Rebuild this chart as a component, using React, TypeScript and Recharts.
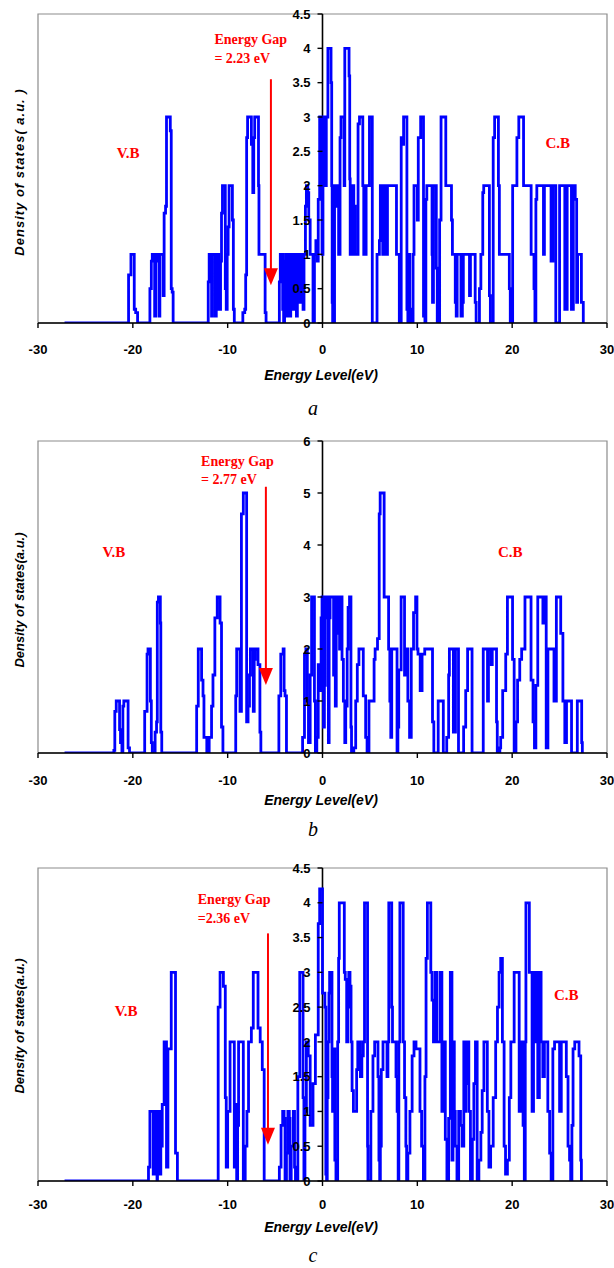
import React from "react"
import {
  LineChart,
  Line,
  XAxis,
  YAxis,
  ReferenceLine,
  ReferenceDot,
  ReferenceArea,
} from "recharts"

type Pt = [number, number]

// shared axis ticks
const energyTicks = [-30, -20, -10, 0, 10, 20, 30]
const dosTicksHalf = [0, 0.5, 1, 1.5, 2, 2.5, 3, 3.5, 4, 4.5]
const dosTicksUnit = [0, 1, 2, 3, 4, 5, 6]

// panel a: [energy eV, DOS a.u.]
const vbA: Pt[] = [
  [-27.2, 0], [-20.5, 0], [-20.45, 0.7], [-20.3, 0.7], [-20.2, 1.0], [-19.95, 1.0], [-19.85, 0.2], [-19.7, 0.15], [-19.5, 0],
  [-18.25, 0], [-18.2, 0.5], [-18.05, 0.9], [-17.95, 1.0], [-17.8, 1.0], [-17.7, 0.1], [-17.6, 0.9], [-17.5, 1.0], [-17.35, 1.0],
  [-17.25, 0.1], [-17.15, 1.0], [-16.9, 1.0], [-16.8, 0.4], [-16.7, 1.6], [-16.55, 1.7], [-16.45, 3.0], [-16.15, 3.0], [-16.05, 2.8],
  [-15.95, 0.5], [-15.85, 0.45], [-15.75, 0],
  [-12.1, 0], [-12.05, 0.6], [-11.95, 1.0], [-11.8, 1.0], [-11.7, 0.1], [-11.6, 1.0], [-11.4, 1.0], [-11.3, 0.1], [-11.2, 1.0],
  [-11.05, 1.0], [-10.95, 0.2], [-10.85, 0.2], [-10.75, 0.9], [-10.65, 1.6], [-10.55, 2.0], [-10.35, 2.0], [-10.25, 0.5],
  [-10.15, 0.2], [-10.05, 1.0], [-9.95, 1.4], [-9.85, 2.0], [-9.6, 2.0], [-9.5, 1.5], [-9.4, 0.2], [-9.3, 0],
  [-8.5, 0], [-8.4, 0.15], [-8.2, 0.2], [-8.1, 0.7], [-8.0, 2.7], [-7.9, 3.0], [-7.6, 3.0], [-7.5, 2.6], [-7.35, 1.9], [-7.25, 2.7],
  [-7.15, 3.0], [-6.8, 3.0], [-6.75, 2.0], [-6.7, 1.0], [-6.1, 1.0], [-6.05, 0.15], [-5.95, 0],
  [-4.6, 0], [-4.55, 0.6], [-4.45, 1.0], [-4.3, 1.0], [-4.2, 0.2], [-4.1, 0], [-4.0, 0.9], [-3.9, 1.0], [-3.8, 0.1], [-3.7, 1.0],
  [-3.55, 1.0], [-3.45, 0.1], [-3.35, 1.0], [-3.2, 0.9], [-3.1, 0.2], [-3.0, 1.0], [-2.85, 1.0], [-2.75, 0.1], [-2.65, 1.0],
  [-2.5, 1.0], [-2.4, 0.3], [-2.3, 1.0], [-2.15, 1.0], [-2.05, 0.2], [-1.95, 1.0], [-1.8, 1.7], [-1.7, 2.0], [-1.55, 1.9],
  [-1.45, 1.5], [-1.3, 1.0], [-1.0, 0], [-0.9, 0], [-0.85, 1.0], [-0.7, 1.2], [-0.55, 0.9], [-0.45, 1.8], [-0.3, 3.0],
  [-0.15, 3.0], [-0.05, 1.0],
]
const cbA: Pt[] = [
  [0.0, 1.0], [0.05, 3.0], [0.2, 3.0], [0.25, 2.0], [0.35, 2.0], [0.4, 3.0], [0.5, 3.0], [0.57, 4.0], [0.82, 4.0], [0.9, 3.5],
  [0.97, 2.0], [1.02, 0.3], [1.07, 0], [1.22, 0], [1.27, 2.0], [1.4, 1.7], [1.55, 2.0], [1.65, 2.0], [1.7, 1.0], [1.8, 1.0],
  [1.85, 2.7], [1.95, 3.0], [2.2, 3.0], [2.28, 2.0], [2.35, 4.0], [2.75, 4.0], [2.8, 3.6], [2.87, 2.1], [2.92, 1.0], [3.0, 1.0],
  [3.05, 2.0], [3.25, 2.0], [3.3, 1.0], [3.4, 1.7], [3.45, 1.0], [3.65, 1.0], [3.75, 2.9], [3.9, 3.0], [4.15, 3.0], [4.25, 2.0],
  [4.35, 1.0], [4.5, 1.0], [4.6, 2.0], [4.85, 2.0], [4.95, 3.0], [5.15, 3.0], [5.25, 0], [5.7, 0], [5.75, 1.0], [5.9, 1.0],
  [6.0, 1.2], [6.1, 2.0], [6.3, 2.0], [6.35, 1.0], [6.5, 1.0], [6.55, 2.0], [6.75, 2.0], [6.8, 1.0], [6.85, 2.0], [7.75, 2.0],
  [7.8, 1.0], [8.05, 1.0], [8.1, 0], [8.25, 0], [8.3, 2.7], [8.45, 2.6], [8.55, 3.0], [8.85, 3.0], [8.9, 0.2], [9.0, 0],
  [9.1, 1.0], [9.2, 0.2], [9.3, 0], [9.5, 0], [9.55, 1.0], [9.65, 2.0], [9.9, 2.0], [10.0, 1.5], [10.1, 2.7], [10.35, 3.0],
  [10.6, 3.0], [10.65, 0.1], [10.8, 0], [10.9, 1.8], [11.0, 2.0], [11.5, 2.0], [11.55, 1.0], [11.6, 0.3], [11.7, 2.0], [11.9, 2.0],
  [12.0, 0.8], [12.1, 0], [12.3, 0], [12.35, 1.5], [12.5, 3.0], [12.9, 3.0], [13.0, 2.0], [13.5, 2.0], [13.6, 1.5], [13.7, 1.0],
  [13.9, 1.0], [14.0, 0.3], [14.1, 0.1], [14.2, 1.0], [14.5, 1.0], [14.6, 0.1], [14.75, 0.3], [14.85, 1.0], [15.4, 1.0],
  [15.5, 0.4], [15.6, 1.0], [16.0, 1.0], [16.1, 0.3], [16.2, 0], [16.5, 0], [16.55, 0.5], [16.7, 1.0], [16.9, 1.9], [17.0, 2.0],
  [17.5, 2.0], [17.6, 0.4], [17.7, 0], [17.9, 0], [18.0, 2.7], [18.15, 3.0], [18.45, 3.0], [18.55, 2.0], [18.65, 1.0],
  [19.6, 1.0], [19.7, 0.5], [19.8, 0], [20.0, 0], [20.05, 2.0], [20.4, 2.0], [20.5, 2.7], [20.7, 3.0], [21.1, 3.0], [21.2, 2.0],
  [21.9, 2.0], [22.0, 1.0], [22.2, 1.0], [22.3, 0.5], [22.4, 0], [22.5, 1.8], [22.6, 2.0], [23.2, 2.0], [23.3, 1.0], [23.4, 2.0],
  [24.0, 2.0], [24.1, 0.9], [24.3, 2.0], [24.5, 2.0], [24.6, 0], [24.9, 0], [25.0, 2.0], [25.5, 2.0], [25.55, 0.2], [25.75, 0.2],
  [25.8, 2.0], [26.2, 2.0], [26.25, 0.2], [26.4, 0.2], [26.45, 2.0], [26.6, 2.0], [26.65, 1.8], [26.8, 0.3], [26.9, 1.0],
  [27.2, 1.0], [27.3, 0.3], [27.45, 0.3], [27.5, 0],
]

// panel b
const vbB: Pt[] = [
  [-27.2, 0], [-22.1, 0], [-22.0, 0.05], [-21.9, 0.8], [-21.75, 1.0], [-21.5, 1.0], [-21.4, 0.45], [-21.3, 0.2], [-21.15, 0],
  [-21.05, 0.9], [-20.95, 1.0], [-20.65, 1.0], [-20.5, 0.1], [-20.35, 0],
  [-18.8, 0], [-18.75, 0.8], [-18.5, 1.9], [-18.4, 2.0], [-18.25, 2.0], [-18.15, 1.0], [-18.05, 0.2], [-17.95, 0], [-17.7, 0],
  [-17.65, 0.4], [-17.5, 0.6], [-17.42, 2.9], [-17.3, 3.0], [-17.15, 3.0], [-17.1, 2.5], [-17.05, 0.4], [-16.95, 0],
  [-13.35, 0], [-13.27, 0.9], [-13.1, 2.0], [-12.85, 2.0], [-12.75, 1.4], [-12.6, 1.1], [-12.5, 0.3], [-12.2, 0], [-12.0, 0],
  [-11.95, 0.3], [-11.7, 0.9], [-11.55, 1.5], [-11.35, 2.6], [-11.1, 3.0], [-10.9, 3.0], [-10.8, 2.5], [-10.65, 0.5], [-10.5, 0],
  [-9.25, 0], [-9.15, 1.1], [-9.05, 2.0], [-8.8, 2.0], [-8.7, 0.8], [-8.55, 4.6], [-8.35, 5.0], [-8.1, 5.0], [-8.0, 0.6],
  [-7.85, 0.9], [-7.7, 1.5], [-7.6, 2.0], [-7.35, 2.0], [-7.3, 0.8], [-7.2, 1.8], [-7.1, 2.0], [-6.9, 2.0], [-6.8, 1.7],
  [-6.6, 0.4], [-6.5, 0],
  [-4.7, 0], [-4.6, 1.1], [-4.4, 1.9], [-4.15, 2.0], [-4.05, 1.2], [-3.95, 1.1], [-3.8, 0],
  [-2.2, 0], [-2.1, 0.3], [-1.9, 1.9], [-1.75, 2.0], [-1.6, 1.0], [-1.48, 0.2], [-1.3, 1.5], [-1.15, 3.0], [-0.95, 3.0],
  [-0.85, 1.0], [-0.75, 0], [-0.6, 0.3], [-0.45, 1.7], [-0.3, 1.2], [-0.15, 2.6], [-0.05, 3.0],
]
const cbB: Pt[] = [
  [0.0, 3.0], [0.1, 0.5], [0.2, 1.3], [0.3, 2.6], [0.36, 3.0], [0.57, 3.0], [0.62, 0.2], [0.7, 2.6], [0.8, 3.0], [1.1, 3.0],
  [1.17, 1.5], [1.3, 3.0], [1.35, 0.9], [1.45, 2.3], [1.55, 3.0], [1.75, 3.0], [1.8, 2.0], [1.9, 3.0], [1.98, 3.0], [2.06, 1.8],
  [2.2, 1.0], [2.35, 0.2], [2.45, 0.9], [2.6, 2.0], [2.7, 2.8], [2.85, 3.0], [2.95, 3.0], [3.0, 0.5], [3.06, 0], [3.2, 0],
  [3.3, 0.1], [3.5, 1.0], [3.67, 1.7], [3.84, 2.0], [4.2, 2.0], [4.3, 1.1], [4.55, 0.3], [4.7, 0], [4.84, 0], [4.9, 1.0],
  [5.27, 1.0], [5.44, 1.8], [5.55, 2.0], [5.73, 2.0], [5.8, 2.2], [5.98, 4.6], [6.08, 5.0], [6.4, 5.0], [6.5, 3.0], [6.87, 3.0],
  [6.97, 2.0], [7.1, 1.0], [7.2, 0.3], [7.3, 2.0], [7.76, 2.0], [7.86, 0], [7.95, 0.5], [8.04, 1.6], [8.29, 3.0], [8.47, 3.0],
  [8.65, 1.5], [8.83, 2.0], [9.0, 1.0], [9.18, 0.3], [9.36, 2.0], [9.6, 2.7], [9.82, 3.0], [9.96, 2.0], [10.07, 1.9],
  [10.3, 1.2], [10.5, 1.9], [10.78, 2.0], [11.5, 2.0], [11.6, 0.6], [11.74, 0], [12.1, 0], [12.2, 1.0], [12.67, 1.0],
  [12.74, 0], [13.0, 0], [13.1, 0.3], [13.3, 1.5], [13.38, 2.0], [13.63, 2.0], [13.8, 0.4], [14.02, 2.0], [14.16, 2.0],
  [14.34, 0], [14.6, 0], [14.88, 0.5], [15.1, 1.2], [15.3, 2.0], [15.59, 2.0], [15.77, 0], [16.85, 0], [16.95, 2.0],
  [17.35, 2.0], [17.4, 1.0], [17.5, 2.0], [17.8, 1.7], [17.9, 2.0], [18.2, 2.0], [18.35, 0.6], [18.43, 0], [18.7, 0.1],
  [18.79, 0.3], [19.0, 1.2], [19.32, 1.9], [19.5, 3.0], [19.86, 3.0], [20.04, 1.8], [20.21, 0], [20.4, 0.6], [20.57, 1.4],
  [20.8, 1.8], [21.0, 2.0], [21.35, 3.0], [21.8, 3.0], [21.99, 1.4], [22.2, 0.6], [22.35, 0.1], [22.5, 1.3], [22.7, 3.0],
  [23.06, 3.0], [23.24, 2.5], [23.42, 3.0], [23.59, 0.1], [23.77, 2.0], [24.13, 2.0], [24.41, 1.0], [24.66, 3.0], [25.02, 3.0],
  [25.12, 2.3], [25.35, 1.0], [25.55, 0.2], [25.73, 1.0], [26.09, 1.0], [26.26, 0], [26.75, 0], [26.87, 1.0], [27.15, 1.0],
  [27.33, 0.2], [27.4, 0],
]

// panel c
const vbC: Pt[] = [
  [-27.2, 0], [-18.45, 0], [-18.35, 0.2], [-18.2, 1.0], [-17.95, 1.0], [-17.85, 0.1], [-17.7, 1.0], [-17.55, 0.6], [-17.45, 0],
  [-17.4, 1.0], [-17.25, 1.0], [-17.12, 0.1], [-17.05, 0.5], [-16.9, 1.1], [-16.7, 2.0], [-16.55, 2.0], [-16.45, 0.2],
  [-16.3, 1.9], [-16.0, 1.9], [-15.95, 3.0], [-15.75, 3.0], [-15.5, 0.4], [-15.3, 0],
  [-11.15, 0], [-11.0, 2.5], [-10.8, 3.0], [-10.6, 3.0], [-10.45, 2.8], [-10.25, 1.2], [-10.15, 0.2], [-10.0, 1.0],
  [-9.75, 2.0], [-9.45, 2.0], [-9.3, 0.2], [-9.2, 1.1], [-9.05, 0], [-8.95, 0.8], [-8.85, 2.0], [-8.5, 2.0], [-8.35, 0],
  [-8.15, 0.5], [-7.97, 1.0], [-7.8, 2.0], [-7.5, 2.2], [-7.3, 3.0], [-7.0, 3.0], [-6.8, 2.2], [-6.57, 2.0], [-6.35, 1.6],
  [-6.15, 0],
  [-4.65, 0], [-4.55, 0.2], [-4.37, 0.8], [-4.2, 1.0], [-4.05, 0.9], [-3.95, 0], [-3.8, 0.4], [-3.65, 1.0], [-3.5, 0.9],
  [-3.43, 0], [-3.3, 0.5], [-3.08, 1.0], [-2.95, 0.2], [-2.85, 0], [-2.6, 1.5], [-2.4, 3.0], [-2.2, 3.0], [-2.05, 1.2],
  [-1.96, 0], [-1.85, 1.0], [-1.7, 2.0], [-1.5, 1.8], [-1.3, 0.8], [-1.0, 1.4], [-0.75, 2.1], [-0.55, 2.1], [-0.45, 3.7],
  [-0.3, 4.2], [-0.1, 4.2],
]
const cbC: Pt[] = [
  [0.0, 2.7], [0.07, 2.7], [0.25, 2.5], [0.35, 0.1], [0.43, 0], [0.5, 1.2], [0.58, 2.0], [0.68, 2.7], [0.75, 3.0], [0.92, 3.0],
  [1.0, 1.5], [1.06, 1.0], [1.2, 1.9], [1.3, 0.3], [1.42, 0], [1.55, 0], [1.6, 2.0], [1.7, 3.2], [1.77, 4.0], [2.13, 4.0],
  [2.3, 3.0], [2.4, 2.9], [2.55, 2.0], [2.65, 2.5], [2.77, 3.0], [2.9, 2.8], [3.01, 2.0], [3.12, 1.3], [3.26, 1.0], [3.48, 1.0],
  [3.6, 1.6], [3.72, 2.0], [3.9, 2.0], [4.0, 1.5], [4.15, 1.8], [4.3, 2.0], [4.43, 4.0], [4.68, 4.0], [4.75, 0.5], [4.79, 0],
  [4.96, 0], [5.1, 1.0], [5.32, 1.8], [5.5, 2.0], [5.67, 2.0], [5.85, 1.5], [5.95, 0.3], [6.03, 0], [6.1, 0.5], [6.2, 1.6],
  [6.38, 2.0], [6.74, 2.0], [6.8, 1.5], [6.9, 2.0], [6.99, 4.0], [7.2, 4.0], [7.3, 2.5], [7.38, 2.0], [7.62, 2.0], [7.75, 1.5],
  [7.87, 1.0], [7.98, 0], [8.05, 2.0], [8.16, 4.0], [8.33, 4.0], [8.51, 2.0], [8.65, 1.2], [8.79, 0.5], [8.87, 0], [9.0, 0.4],
  [9.22, 1.0], [9.45, 1.8], [9.65, 2.0], [9.86, 1.9], [10.1, 1.9], [10.28, 1.0], [10.45, 0.5], [10.64, 0], [10.8, 1.5],
  [10.92, 3.2], [11.06, 4.0], [11.28, 4.0], [11.42, 3.0], [11.55, 2.6], [11.7, 2.0], [11.88, 3.0], [12.06, 2.0], [12.23, 2.0],
  [12.41, 3.0], [12.59, 1.0], [12.77, 2.0], [12.95, 0.6], [13.12, 0], [13.3, 0.9], [13.48, 3.0], [13.65, 0.3], [13.76, 2.0],
  [13.9, 1.0], [14.0, 0.5], [14.18, 0], [14.36, 1.0], [14.55, 0.8], [14.72, 0.5], [14.9, 2.0], [14.96, 1.0], [15.1, 1.4],
  [15.25, 2.0], [15.43, 1.0], [15.6, 0], [15.8, 0.6], [15.96, 1.4], [16.13, 2.0], [16.31, 0], [16.49, 0.3], [16.7, 0.7],
  [16.84, 1.3], [17.02, 2.0], [17.2, 2.0], [17.38, 1.0], [17.55, 0.2], [17.73, 0.5], [18.0, 1.2], [18.26, 2.0], [18.45, 2.5],
  [18.62, 3.0], [18.79, 3.2], [18.97, 2.0], [19.15, 0.5], [19.3, 0.1], [19.5, 0.3], [19.7, 1.2], [19.86, 2.0], [20.04, 2.0],
  [20.21, 3.0], [20.57, 3.0], [20.74, 1.0], [20.99, 2.0], [21.15, 0.8], [21.28, 0], [21.38, 2.0], [21.45, 4.0], [21.63, 4.0],
  [21.81, 3.0], [21.99, 3.0], [22.1, 1.0], [22.25, 3.0], [22.4, 2.0], [22.55, 3.0], [22.7, 1.2], [22.87, 3.0], [23.05, 2.0],
  [23.23, 1.5], [23.4, 2.0], [23.58, 2.0], [23.76, 1.0], [23.95, 0.4], [24.11, 0], [24.29, 1.9], [24.47, 2.0], [24.82, 2.0],
  [25.0, 1.0], [25.18, 2.0], [25.53, 2.0], [25.71, 1.5], [25.89, 0.5], [26.05, 0.3], [26.17, 0], [26.3, 0.8], [26.42, 1.9],
  [26.6, 2.0], [26.95, 2.0], [27.05, 1.8], [27.13, 1.8], [27.23, 0.3], [27.3, 0],
]

const SANS = "'Liberation Sans', Arial, sans-serif"
const SERIF = "'Liberation Serif', 'Times New Roman', serif"
const BLUE = "#0000ff"
const RED = "#ff0000"

interface PanelCfg {
  points: Pt[]
  yMax: number
  yTicks: number[]
  top: number
  height: number
  marginTop: number
  axisH: number
  tickMargin: number
  gapText: string
  gapPos: [number, number, number] // x, y line1, y line2
  arrow: [number, number, number] // x, yTop, yTip
  vb: [number, number]
  cb: [number, number]
  yTitle: string
  yTitleSpacing: number
  yTitleTop: number
  xTitleTop: number
  caption: string
  captionTop: number
}

const panels: PanelCfg[] = [
  {
    points: [...vbA, ...cbA], yMax: 4.5, yTicks: dosTicksHalf,
    top: 0, height: 400, marginTop: 14, axisH: 77, tickMargin: 17,
    gapText: "= 2.23 eV", gapPos: [-11.4, 4.06, 3.78], arrow: [-5.44, 3.55, 0.55],
    vb: [-20.5, 2.4], cb: [24.8, 2.55],
    yTitle: "Density of states( a.u. )", yTitleSpacing: 1, yTitleTop: 172, xTitleTop: 375,
    caption: "a", captionTop: 408,
  },
  {
    points: [...vbB, ...cbB], yMax: 6, yTicks: dosTicksUnit,
    top: 430, height: 390, marginTop: 11, axisH: 67, tickMargin: 18,
    gapText: "= 2.77 eV", gapPos: [-12.8, 5.52, 5.17], arrow: [-5.97, 5.12, 1.31],
    vb: [-22.0, 3.77], cb: [19.8, 3.77],
    yTitle: "Density of states(a.u.)", yTitleSpacing: 0, yTitleTop: 600, xTitleTop: 800,
    caption: "b", captionTop: 829,
  },
  {
    points: [...vbC, ...cbC], yMax: 4.5, yTicks: dosTicksHalf,
    top: 855, height: 390, marginTop: 13, axisH: 64, tickMargin: 14,
    gapText: "=2.36 eV", gapPos: [-13.15, 3.98, 3.71], arrow: [-5.75, 3.56, 0.52],
    vb: [-20.7, 2.37], cb: [25.7, 2.6],
    yTitle: "Density of states(a.u.)", yTitleSpacing: 0, yTitleTop: 1026, xTitleTop: 1227,
    caption: "c", captionTop: 1255,
  },
]

function redText(text: string, anchor: "start" | "middle", size: number) {
  return (s: any) => (
    <text x={s.cx} y={s.cy} textAnchor={anchor} fill={RED} fontFamily={SERIF} fontWeight={700} fontSize={size}>
      {text}
    </text>
  )
}

function DosPanel({ p }: { p: PanelCfg }) {
  const data = p.points.map(([e, d]) => ({ e, d }))
  return (
    <div style={{ position: "absolute", left: 0, top: p.top, width: 614, height: p.height }}>
      <LineChart width={614} height={p.height} data={data} margin={{ top: p.marginTop, right: 7, bottom: 0, left: 38 }}>
        <XAxis
          type="number"
          dataKey="e"
          domain={[-30, 30]}
          ticks={energyTicks}
          interval={0}
          allowDataOverflow
          height={p.axisH}
          axisLine={{ stroke: "#000", strokeWidth: 1.6 }}
          tickLine={{ stroke: "#000", strokeWidth: 1.4 }}
          tickSize={5}
          tickMargin={p.tickMargin}
          tick={{ fill: "#000", fontSize: 13, fontWeight: 700, fontFamily: SANS }}
        />
        <YAxis type="number" hide width={0} domain={[0, p.yMax]} allowDataOverflow />
        <ReferenceArea x1={-30} x2={30} y1={0} y2={p.yMax} fill="none" fillOpacity={0} stroke="#8c8c8c" strokeWidth={1.2} ifOverflow="visible" />
        {p.yTicks.map((v) => (
          <ReferenceDot
            key={v}
            x={0}
            y={v}
            r={0}
            ifOverflow="visible"
            shape={(s: any) => (
              <g>
                <line x1={s.cx - 5} x2={s.cx} y1={s.cy} y2={s.cy} stroke="#000" strokeWidth={1.4} />
                <text x={s.cx - 12} y={s.cy} dy="0.36em" textAnchor="end" fill="#000" fontFamily={SANS} fontWeight={700} fontSize={13}>
                  {v}
                </text>
              </g>
            )}
          />
        ))}
        <ReferenceLine x={0} stroke="#000" strokeWidth={1.6} ifOverflow="visible" />
        <Line dataKey="d" type="stepAfter" stroke={BLUE} strokeWidth={2.8} dot={false} activeDot={false} isAnimationActive={false} />
        <ReferenceDot x={p.gapPos[0]} y={p.gapPos[1]} r={0} ifOverflow="visible" shape={redText("Energy Gap", "start", 14)} />
        <ReferenceDot x={p.gapPos[0]} y={p.gapPos[2]} r={0} ifOverflow="visible" shape={redText(p.gapText, "start", 14)} />
        <ReferenceDot x={p.vb[0]} y={p.vb[1]} r={0} ifOverflow="visible" shape={redText("V.B", "middle", 15)} />
        <ReferenceDot x={p.cb[0]} y={p.cb[1]} r={0} ifOverflow="visible" shape={redText("C.B", "middle", 15)} />
        <ReferenceLine
          segment={[{ x: p.arrow[0], y: p.arrow[1] }, { x: p.arrow[0], y: p.arrow[2] }]}
          ifOverflow="visible"
          shape={(s: any) => (
            <g>
              <line x1={s.x1} x2={s.x2} y1={s.y1} y2={s.y2 - 15} stroke={RED} strokeWidth={2} />
              <polygon points={`${s.x2 - 7},${s.y2 - 17} ${s.x2 + 7},${s.y2 - 17} ${s.x2},${s.y2}`} fill={RED} />
            </g>
          )}
        />
      </LineChart>
    </div>
  )
}

export default function App() {
  return (
    <div style={{ position: "absolute", left: 0, top: 0, width: 614, height: 1268, background: "#fff", overflow: "hidden" }}>
      {panels.map((p) => (
        <React.Fragment key={p.caption}>
          <DosPanel p={p} />
          <div
            style={{
              position: "absolute", left: 19, top: p.yTitleTop, transform: "translate(-50%, -50%) rotate(-90deg)",
              whiteSpace: "nowrap", fontFamily: SANS, fontWeight: 700, fontStyle: "italic", fontSize: 13,
              letterSpacing: p.yTitleSpacing, lineHeight: 1,
            }}
          >
            {p.yTitle}
          </div>
          <div
            style={{
              position: "absolute", left: 321, top: p.xTitleTop, transform: "translate(-50%, -50%)",
              whiteSpace: "nowrap", fontFamily: SANS, fontWeight: 700, fontStyle: "italic", fontSize: 14, lineHeight: 1,
            }}
          >
            Energy Level(eV)
          </div>
          <div
            style={{
              position: "absolute", left: 313, top: p.captionTop, transform: "translate(-50%, -50%)",
              fontFamily: SERIF, fontStyle: "italic", fontSize: 20, lineHeight: 1.2,
            }}
          >
            {p.caption}
          </div>
        </React.Fragment>
      ))}
    </div>
  )
}
